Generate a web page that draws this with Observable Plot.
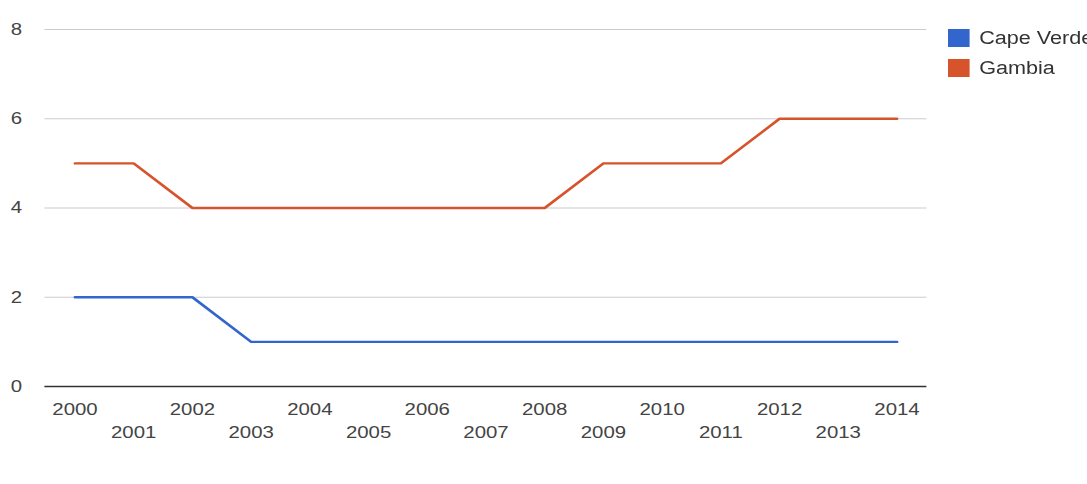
<!DOCTYPE html>
<html>
<head>
<meta charset="utf-8">
<script src="https://cdn.jsdelivr.net/npm/d3@7"></script>
<script src="https://cdn.jsdelivr.net/npm/@observablehq/plot@0.6"></script>
<style>
  html, body { margin: 0; padding: 0; background: #fff; width: 1087px; height: 484px; overflow: hidden; }
  #wrap { position: relative; width: 906px; height: 484px; transform: scaleX(1.2); transform-origin: 0 0; font-family: "Liberation Sans", Arial, sans-serif; }
  #legend { position: absolute; left: 790px; top: 23px; }
  .item { display: flex; align-items: center; height: 30px; font-size: 18px; color: #333; white-space: nowrap; }
  .sw { width: 18px; height: 18px; margin-right: 8px; }
</style>
</head>
<body>
<div id="wrap"><div id="chart"></div><div id="legend"></div></div>
<script>
const years = [2000,2001,2002,2003,2004,2005,2006,2007,2008,2009,2010,2011,2012,2013,2014];
const capeVerde = [2,2,2,1,1,1,1,1,1,1,1,1,1,1,1];
const gambia = [5,5,4,4,4,4,4,4,4,5,5,5,6,6,6];
const seriesNames = ["Cape Verde", "Gambia"];
const seriesColors = ["#3366cc", "#d6532b"];
const yTicks = [0,2,4,6,8];

const data = [];
years.forEach((y, i) => {
  data.push({year: y, value: capeVerde[i], series: seriesNames[0]});
  data.push({year: y, value: gambia[i], series: seriesNames[1]});
});

const evenYears = years.filter((d, i) => i % 2 === 0);
const oddYears = years.filter((d, i) => i % 2 === 1);

const chart = Plot.plot({
  width: 906,
  height: 484,
  marginLeft: 37,
  marginRight: 134,
  marginTop: 29,
  marginBottom: 98,
  insetLeft: 25,
  insetRight: 25,
  style: {fontFamily: "Liberation Sans, Arial, sans-serif", fontSize: "17px", color: "#444", background: "#fff"},
  x: {domain: [2000, 2014]},
  y: {domain: [0, 8]},
  color: {domain: seriesNames, range: seriesColors},
  marks: [
    Plot.ruleY(yTicks.filter(d => d > 0), {stroke: "#ccc", strokeWidth: 1}),
    Plot.ruleY([0], {stroke: "#333", strokeWidth: 1.3}),
    Plot.axisY({ticks: yTicks, tickSize: 0, tickPadding: 19, tickFormat: d => String(d), label: null, fill: "#444"}),
    Plot.axisX({ticks: evenYears, tickSize: 0, tickPadding: 16, tickFormat: d => String(d), label: null, fill: "#444"}),
    Plot.axisX({ticks: oddYears, tickSize: 0, tickPadding: 39, tickFormat: d => String(d), label: null, fill: "#444"}),
    Plot.line(data, {x: "year", y: "value", z: "series", stroke: "series", strokeWidth: 2.4})
  ]
});
document.getElementById("chart").appendChild(chart);

const legend = document.getElementById("legend");
seriesNames.forEach((name, i) => {
  const row = document.createElement("div");
  row.className = "item";
  const sw = document.createElement("div");
  sw.className = "sw";
  sw.style.background = seriesColors[i];
  row.appendChild(sw);
  row.appendChild(document.createTextNode(name));
  legend.appendChild(row);
});
</script>
</body>
</html>
